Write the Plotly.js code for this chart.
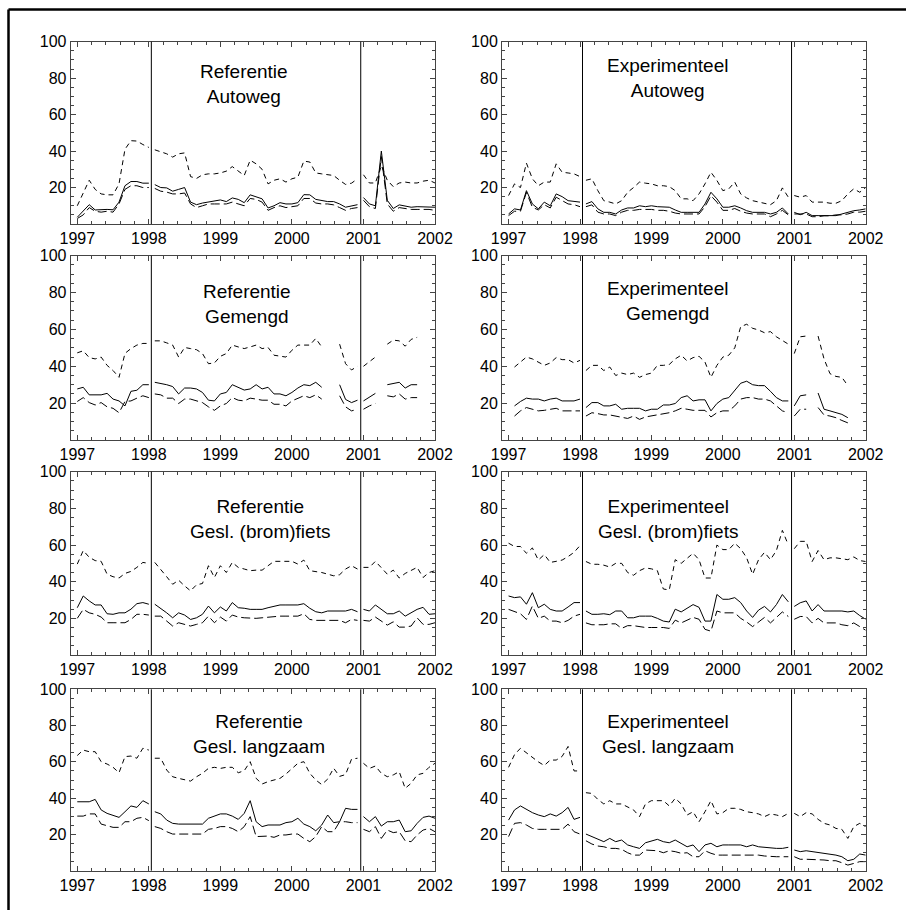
<!DOCTYPE html>
<html>
<head>
<meta charset="utf-8">
<script src="https://cdn.plot.ly/plotly-3.0.1.min.js"></script>
<style>
html,body{margin:0;padding:0;background:#fff;}
#chart{width:906px;height:910px;}
</style>
</head>
<body>
<div id="chart"></div>
<script>
// ---- data: monthly values, index 0 = Jan 1997 ... 60 = Jan 2002 ----
const startYear = 1997;
const xTickLabels = ['1997','1998','1999','2000','2001','2002'];
const yTickLabels = ['20','40','60','80','100'];
const panelTitles = [
  ['Referentie','Autoweg'], ['Experimenteel','Autoweg'],
  ['Referentie','Gemengd'], ['Experimenteel','Gemengd'],
  ['Referentie','Gesl. (brom)fiets'], ['Experimenteel','Gesl. (brom)fiets'],
  ['Referentie','Gesl. langzaam'], ['Experimenteel','Gesl. langzaam']
];
const _ = null;

// Referentie Autoweg
const refAutoMid = [3.7,7,10.6,7.7,8,8,7.8,12,21,23.3,23.3,22.4,22.4,
  21.6,20,19.8,18,19,20,12,10.6,11.5,12,12.5,13.2,12.3,14.3,13.5,11.7,16,15,13.8,8.8,10,11.7,11,11,11.7,16.1,16,13.5,13,12.3,12.3,11,9.2,10,10.6,
  14.5,11,10,40,13,8.5,10.5,10,9.2,9.5,9.5,9.5,9.2];
const refAutoUp = [10,17,24,19,16.5,16,16,22,41,45.7,45.5,43.6,42,
  40.7,39.5,38.5,36.7,38.5,39,26,25,27,27.5,27.5,28,29,31.5,29,26.6,35,33,30,22,24,24.8,23,24.8,25.7,34.5,34,28,27.5,27,26.6,24,21.7,22.4,24.8,
  27,22.5,22.5,32,24,20.5,22.5,23,22.5,22.5,23.5,24,22.5];
const refAutoLow = [3,5,9,7,6.5,7,6.5,11,19,21,21,20,20,
  19.5,18,17.5,16.5,16.5,17,11,9,10,11,11,11,11,12,11,10,14,13.5,12,7.5,9,10,9,9.5,10,14,14,11.5,11,11,10.5,9,7.5,8.5,9,
  13,9.5,8.5,37,11,7,9,8.5,8,8,8,8,7.5];

// Experimenteel Autoweg
const expAutoMid = [5.5,8.3,7.7,18.3,11,8.3,12,10,16.5,15,12.8,12.5,12,
  11,12.3,8.3,6.4,6.4,5.5,7.7,8.8,8.8,10,9.5,10,9.5,9.2,9.2,7.7,6.4,6.4,6.4,6.4,11,17.4,13.8,9.2,9.2,10,8.8,7.3,6.4,6.4,6.4,5.5,6.4,8.8,5.5,
  6.4,5.1,6.4,4.6,4.6,4.6,4.6,4.6,5.5,6.4,7.3,7.7,8.3];
const expAutoUp = [15.6,22,20,33.4,24.8,21,23,23,33,28.4,28,27.5,26,
  24,24.8,18.3,12.8,12,11,12.8,17.4,20,23,22.4,22,21,21,20.5,18.3,13.8,13.8,12.8,16.5,22,28.4,23.9,18.3,19.3,23,16.5,14.3,12.8,12,11.4,10.6,12.8,19.8,14.7,
  15.6,14.7,15.6,12,12,12,11.4,11.4,12.8,16.5,19.3,17.4,20];
const expAutoLow = [4.6,7,7,17.4,9.2,7.7,10.6,8.8,14.7,12.8,11,10.6,9.5,
  9.5,10.5,6.5,5.5,5.5,4.6,6.5,7.5,7.5,8,8,8,7.5,7.5,7,6,5.5,5.5,5.5,5.5,9.5,15.5,12,7.5,7.5,8.5,7,6,5.5,5.5,5.5,4,5.5,7.5,5,
  5.5,5.5,5.5,4,4,4.5,4.5,5,5,5.5,6.5,6.5,7];

// Referentie Gemengd
const refMixMid = [27.7,28.6,24.5,24.5,24.5,25.3,22.2,21.2,18.5,26.4,27,30,30,
  31.3,30.8,30,29,25,28.2,28.2,27.7,25.8,21.6,21.2,25,25.8,30,28.6,27.1,27.7,30,27.7,28.6,25,25,24,25.8,28.2,30,29.5,31.3,28.6,_,_,30,22,20.3,21.6,
  21.2,23.4,25.3,_,30,30.8,31.3,28.2,30,30,_,_,_];
const refMixUp = [47.3,48.4,44.7,44,45,40.5,37.7,34,47,49.6,51.5,52.4,52.4,
  53.8,53.8,52.7,51.5,45,50.2,49.6,49,46.9,41.4,41.8,45.4,46.9,51.5,50.5,49.6,50.5,51.5,49.6,50.2,46,45.4,45,48.7,51.5,51.5,51.5,55.1,50.5,_,_,52,41.4,38,40,
  40,42.3,45,_,52,54.2,53.8,50.9,54.6,55.7,_,_,_];
const refMixLow = [20.9,23,20.3,19,20.3,18,17.2,14.8,20.9,21.2,22.7,24,23,
  25,24.5,22.7,22.7,19.8,22.2,22.2,21.2,20.3,18,16.1,18.5,19.8,23,21.6,21.2,22.7,22.2,21.6,21.6,19.4,19.4,18.5,21.2,22.7,24,23,24.5,22.2,_,_,24,18,15.8,16.7,
  16.7,18.5,19.8,_,24,23.4,25,22.2,23,23,_,_,_];

// Experimenteel Gemengd
const expMixMid = [_,18.5,20.9,22.7,22.2,22.2,21.2,22.2,22.7,21.2,21.2,21.2,22.2,
  17.6,20.3,20.3,18.5,18.5,19.4,16.7,17.2,17.2,17.2,15.8,16.7,16.7,19,19,19.8,23,24,21.2,21.8,21.8,15.8,19.8,22.2,23,26.7,30.8,31.9,30,29.5,29.5,26.4,23,21.2,21.2,
  18.5,24,24.5,_,25.5,16.7,15.8,14.8,13.9,12.1,_,_,_];
const expMixUp = [_,39.6,42.3,45,44,42.3,40.5,41.8,44.7,43.6,43.6,41.8,43.2,
  37.7,40.5,40.5,37.7,39.6,35,36.3,35.5,36.3,34,35.5,36.3,40.5,40.5,41,44,46,42.9,44.7,45.4,42.3,34,40.5,45,46,50,61.5,62.8,60.6,59.7,58.2,58.8,56,54.2,52,
  46.9,56,56.4,_,56.4,44,36,34.5,34,29.5,_,_,_];
const expMixLow = [_,13,15.8,17.6,16.7,15.8,16.1,16.7,17.2,15.8,15.8,15.8,15.8,
  13,14.8,14.3,13.6,13.6,13,12.1,11.7,13,11.2,12.5,13,13.9,14.3,14.8,15.8,17.2,16.7,16.1,16.1,16.1,12.5,14.8,15.8,15.8,18.5,22.2,23,23,22.2,22.2,21.2,18.5,15.8,14.8,
  13,16.7,16.7,_,17.6,13.6,13,12.1,10.6,9.3,_,_,_];

// Referentie Gesl. (brom)fiets
const refBikeMid = [25.8,32.2,29.5,27.3,27.3,22.5,22.2,23,23,25,28,28.6,27.7,
  27.7,25.5,23,20.3,23,21.8,19.4,20.3,22.2,26.7,23,26.2,24,28.6,25.8,25.5,24.9,24.9,24.9,25.8,26.7,27.3,27.3,27.3,27.3,28,25.5,23.6,23,24,24,24,24,24.9,23.6,
  24.9,24,27.3,25,22.5,22.5,24,21.2,23,24.9,26,22.2,22.5];
const refBikeUp = [49.6,57,53.3,51.5,51.1,44.1,42.7,42,44.5,45.6,47.8,50.5,50,
  50.5,46.9,42.7,38.6,40.8,37.7,35,38.3,39,48.7,42.3,48.7,45,50.5,47.8,46.9,46,46.3,46.3,48.7,51.1,51.1,51.1,51.1,49.6,51.8,46,45.6,45,44.1,43.2,43.8,46.9,48.7,46.9,
  47.8,47.8,51.1,47.8,44.1,46.3,42,44.5,46,47.8,42.3,45,46];
const refBikeLow = [20,24.9,23,22.2,20.7,17.6,17.6,17.6,17.6,19.4,22.2,22.2,21.8,
  21.2,21.2,18.5,15.8,17.6,16.7,15.8,16.7,17.6,21.2,17.6,20.7,18.5,21.8,20.7,20.3,20,20,20.3,20.7,21.2,21.2,21.2,21.2,21.2,22.5,19.4,18.9,18.9,18.9,18.9,18.9,17.6,19.4,18.9,
  18.9,18.5,20.7,18.5,16.3,18.1,15.2,15.2,15.8,20.3,16.7,16.7,17.6];

// Experimenteel Gesl. (brom)fiets
const expBikeMid = [32.2,31.3,31.7,27.7,34,25.8,27.7,24.9,24,24,26.2,28.6,28.6,
  24,22.2,22.2,22.5,22,24,24,20.3,20.3,21.2,21.2,21.2,20,18.5,18,25,23.5,25.5,27.5,26,18.5,18.5,33,30.4,30.4,31.3,28.6,24,20.5,24.5,26.5,23.5,27.5,33,29,
  26.5,28.5,29.5,24,27.5,24,24,24,24,23.5,24,21.5,19.5];
const expBikeUp = [61,59.2,59.2,55.5,58.4,51.8,54.8,50.5,51.1,51.8,53.7,56,59.7,
  51,49.5,49.5,49,48,50,50,45,43.5,46,47.5,47,46,36,35.5,52,50,53,55.5,52,42,42,60,57.5,57.5,61,58,53,44,52,56,52,57,68,60,
  58,62,62,51,57,52,53,53,52.5,52,53.5,51.5,51];
const expBikeLow = [24.9,23.6,22.5,19.4,26.7,20,21.2,18.5,18.5,17.6,18.9,21.2,22.2,
  17.5,16.5,16.5,16.5,17,17,14.5,16,16,15.5,15,15,15,15,14.5,19,17.5,19,20.5,19.5,14,13,24,23,23,23,20,18,15.5,18,20.5,17.5,20.5,23.5,21,
  19.5,21,21,17.5,20,17.5,17.5,17.5,16.5,16,17.5,15.5,13.5];

// Referentie Gesl. langzaam
const refSlowMid = [38,38,38,39.3,33.5,31.6,30.7,29.4,32.5,35.7,34.9,38.6,36.8,
  32.5,31.3,27.9,26.1,25.7,25.7,25.7,25.7,25.7,28.9,30.1,31.3,31.3,30.1,28.3,31.6,38.6,27,24.3,25.2,25.2,25.2,26.5,27,28.9,25.7,24.3,22,25.2,30.7,26.5,27,34.4,33.8,33.8,
  29.8,27,29.8,24.6,27,27,27.9,21.5,22,26.1,29.4,30.1,28.9];
const refSlowUp = [63.5,66.5,65.6,65.6,60.1,58.8,57,54,62.9,63.2,62,67.5,66.5,
  62,62,55.5,51.8,50.9,50,49.4,51.8,53.7,56.4,57,56.4,57,57,54,55.1,60.1,50.9,47.8,49.1,50,50.9,53.3,56.4,59.2,60.1,53.7,50,47.5,50.5,56.5,52,53,61.5,62,
  59.2,56.4,57.7,53.7,51.8,52.8,54.6,45.4,48.2,52.8,53.7,57,59.2];
const refSlowLow = [30.1,30.1,31.3,31.3,25.7,24.6,23.9,23.9,27,27,28.9,29.4,27.6,
  24.3,23.3,21.5,20.2,20.2,20.2,20.2,20.2,20.2,22.8,23.3,24.3,24.3,23.3,21.5,24.3,29.8,18.8,18.8,19.1,18.4,19.7,19.7,20.2,20.2,17.8,16,18.8,24.3,21.5,21.5,27,27,26.5,26.5,
  22.8,21.5,24.3,17.8,22.4,21,21.5,16.5,16,19.7,22.4,23.3,21.5];

// Experimenteel Gesl. langzaam
const expSlowMid = [27.9,33.5,35.7,33.8,32,30.7,29.8,31.3,30.1,32,34.9,28.3,29.4,
  20.2,18.8,17.3,16,17.8,16,16.9,14.2,13.2,12.3,15.4,16.5,17.3,16,15.4,16.9,15.1,13.2,14.2,10.5,14.2,15.1,13.2,14.2,14.2,14.2,14.2,13.2,14.2,13.2,12.9,12.3,12.3,12.3,12.9,
  11.4,10.5,11,10.5,9.9,9.6,9.2,8.6,7.7,5.5,6.3,9.2,8.6];
const expSlowUp = [57,64,67.5,65,62,60,58,61,61,63,68.5,55,55,
  43,42.6,39.3,36.8,38.6,36.8,36.8,35.3,33.5,29.8,36.8,38.6,38.6,38.6,35.7,39.9,36.8,30.7,32.5,27,32.5,38.6,31.3,32,34.4,34.4,33.8,32.5,32,31.3,29.8,31.3,30.7,29.8,31.6,
  31.6,29.8,32,31.3,28.3,26.1,25.2,23.3,22.8,17.8,24.3,26.1,24.3];
const expSlowLow = [18.8,26.1,26.5,25.2,23.3,22.8,22.8,22.8,22.8,22.8,25.7,21.5,20.2,
  16.5,14.7,13.6,13.2,12.3,12.3,11.8,9.9,8.6,8.6,11.4,11.4,11,9.9,11,10.5,9.6,9.9,7.7,7.7,11,9.6,8.6,8.6,8.6,8.6,8.6,8.6,8.6,8.6,8.1,7.7,7.7,7.7,7.7,
  7.7,6.3,6.3,6.3,6.3,5.9,5.5,5.5,4.4,3.1,4,5,5];

const seriesByPanel = [
  [refAutoMid, refAutoUp, refAutoLow], [expAutoMid, expAutoUp, expAutoLow],
  [refMixMid, refMixUp, refMixLow], [expMixMid, expMixUp, expMixLow],
  [refBikeMid, refBikeUp, refBikeLow], [expBikeMid, expBikeUp, expBikeLow],
  [refSlowMid, refSlowUp, refSlowLow], [expSlowMid, expSlowUp, expSlowLow]
];

// ---- layout geometry (pixels in a 906x910 page) ----
const W = 906, H = 910;
const colX = [[70.7, 435], [502, 865.7]];
const rowY = [[41.7, 224], [255.7, 440], [471.7, 655], [689.3, 870.7]];
const breakIdx = [13, 48];             // the series are interrupted here
const vLines = [1998.035, 2000.962];   // period separators
const titlePos = [ // [x (year), y (value)]
  [1999.33, 77.0], [1999.23, 80.3],
  [1999.37, 73.8], [1999.23, 75.3],
  [1999.55, 74.3], [1999.23, 74.3],
  [1999.54, 75.2], [1999.23, 75.2]
];

const tickFontX = {family: 'Liberation Sans Narrow, Arial Narrow, Liberation Sans, Arial, sans-serif', size: 16, color: '#000'};
const tickFontY = {family: 'Liberation Sans, Arial, sans-serif', size: 16, color: '#000'};
const frameColor = '#444';

function buildXY(vals) {
  const xs = [], ys = [];
  for (let i = 0; i < vals.length; i++) {
    if (breakIdx.includes(i)) { xs.push(null); ys.push(null); }
    xs.push(startYear + i / 12);
    ys.push(vals[i]);
  }
  return {x: xs, y: ys};
}

const traces = [];
const layout = {
  width: W, height: H,
  margin: {l: 0, r: 0, t: 0, b: 0},
  paper_bgcolor: '#fff', plot_bgcolor: '#fff',
  showlegend: false,
  shapes: [], annotations: []
};

const styles = [
  {color: '#000', width: 1, dash: 'solid'},
  {color: '#000', width: 1, dash: '5px,4px'},
  {color: '#000', width: 1, dash: '9px,4px'}
];

for (let p = 0; p < 8; p++) {
  const r = Math.floor(p / 2), c = p % 2;
  const n = p + 1;
  const xa = 'xaxis' + (n === 1 ? '' : n), ya = 'yaxis' + (n === 1 ? '' : n);
  const xr = 'x' + (n === 1 ? '' : n), yr = 'y' + (n === 1 ? '' : n);

  layout[xa] = {
    domain: [colX[c][0] / W, colX[c][1] / W],
    anchor: yr,
    range: [1996.908, 2002],
    tickmode: 'array',
    tickvals: xTickLabels.map(Number),
    ticktext: xTickLabels,
    ticks: 'inside', ticklen: 5, tickwidth: 1, tickcolor: frameColor,
    minor: {tickmode: 'linear', tick0: 1997, dtick: 0.2, ticks: 'inside', ticklen: 3, tickwidth: 1, tickcolor: frameColor, showgrid: false},
    showline: true, linecolor: frameColor, linewidth: 1, mirror: 'allticks',
    showgrid: false, zeroline: false,
    tickfont: tickFontX, fixedrange: true
  };
  layout[ya] = {
    domain: [1 - rowY[r][1] / H, 1 - rowY[r][0] / H],
    anchor: xr,
    range: [0, 100],
    tickmode: 'array',
    tickvals: yTickLabels.map(Number),
    ticktext: yTickLabels,
    ticks: 'inside', ticklen: 5, tickwidth: 1, tickcolor: frameColor,
    minor: {tickmode: 'linear', tick0: 0, dtick: 5, ticks: 'inside', ticklen: 3, tickwidth: 1, tickcolor: frameColor, showgrid: false},
    showline: true, linecolor: frameColor, linewidth: 1, mirror: 'allticks',
    showgrid: false, zeroline: false,
    tickfont: tickFontY, fixedrange: true
  };

  const ser = seriesByPanel[p];
  for (let s = 0; s < 3; s++) {
    const xy = buildXY(ser[s]);
    traces.push({
      type: 'scatter', mode: 'lines', x: xy.x, y: xy.y,
      xaxis: xr, yaxis: yr, connectgaps: false,
      line: styles[s], hoverinfo: 'skip'
    });
  }

  vLines.forEach(v => layout.shapes.push({
    type: 'line', xref: xr, yref: yr + ' domain', x0: v, x1: v, y0: 0, y1: 1,
    line: {color: '#000', width: 1}
  }));

  layout.annotations.push({
    xref: xr, yref: yr, x: titlePos[p][0], y: titlePos[p][1],
    text: panelTitles[p].join('<br>'), showarrow: false,
    xanchor: 'center', yanchor: 'middle', align: 'center',
    font: {family: 'Liberation Sans, Arial, sans-serif', size: 19, color: '#000'}
  });
}

// outer frame (left and top edges visible)
layout.shapes.push({type: 'line', xref: 'paper', yref: 'paper', x0: 8.5 / W, x1: 1.01, y0: 1 - 9.5 / H, y1: 1 - 9.5 / H, line: {color: '#000', width: 2.5}});
layout.shapes.push({type: 'line', xref: 'paper', yref: 'paper', x0: 8.5 / W, x1: 8.5 / W, y0: 1 - 9.5 / H, y1: -0.01, line: {color: '#000', width: 2.5}});

Plotly.newPlot('chart', traces, layout, {displayModeBar: false, staticPlot: true});
</script>
</body>
</html>
